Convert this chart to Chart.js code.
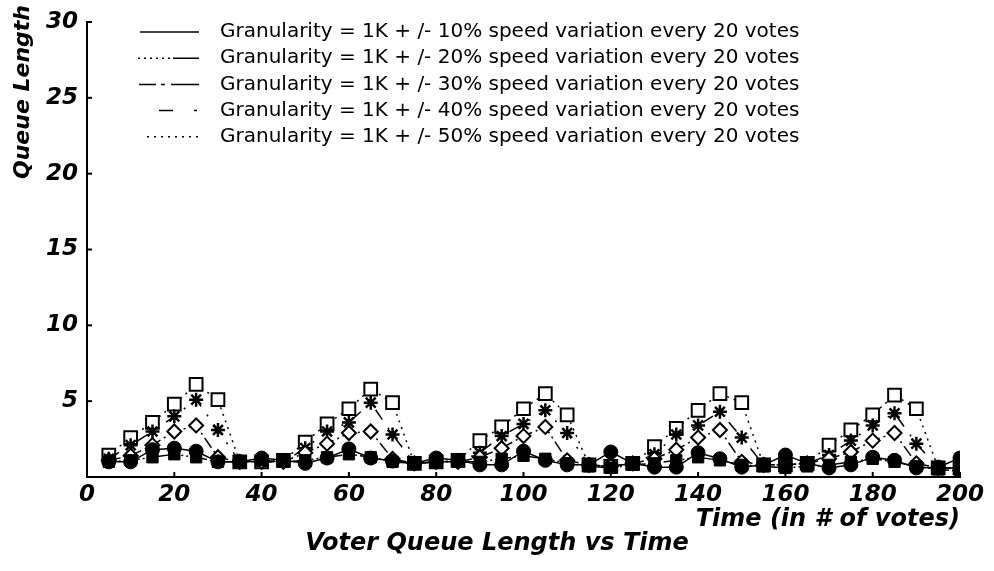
<!DOCTYPE html>
<html>
<head>
<meta charset="utf-8">
<script src="https://cdn.jsdelivr.net/npm/chart.js@4.4.0/dist/chart.umd.min.js"></script>
<style>
  html, body { margin: 0; padding: 0; background: #fff; }
  #wrap { width: 994px; height: 571px; }
</style>
</head>
<body>
<div id="wrap"><canvas id="chart_Queue"></canvas></div>
<script>
// time in # of votes (one sample every 5 votes)
var times = [5, 10, 15, 20, 25, 30, 35, 40, 45, 50, 55, 60, 65, 70, 75, 80, 85, 90, 95, 100,
             105, 110, 115, 120, 125, 130, 135, 140, 145, 150, 155, 160, 165, 170, 175, 180, 185, 190, 195, 200];

var seriesNames = [
  "Granularity = 1K + /- 10% speed variation every 20 votes",
  "Granularity = 1K + /- 20% speed variation every 20 votes",
  "Granularity = 1K + /- 30% speed variation every 20 votes",
  "Granularity = 1K + /- 40% speed variation every 20 votes",
  "Granularity = 1K + /- 50% speed variation every 20 votes"
];

var var10 = [1.0, 1.0, 1.8, 1.9, 1.7, 1.0, 1.0, 1.25, 1.1, 0.9, 1.25, 1.85, 1.25, 1.05, 0.9, 1.25, 1.1, 0.8, 0.8, 1.7,
             1.1, 0.8, 0.8, 1.65, 0.9, 0.65, 0.65, 1.6, 1.2, 0.65, 0.8, 1.45, 0.9, 0.6, 0.8, 1.3, 1.1, 0.6, 0.65, 1.25];
var var20 = [1.0, 1.1, 1.3, 1.5, 1.3, 1.0, 1.0, 1.1, 1.0, 1.1, 1.3, 1.5, 1.3, 1.0, 0.9, 1.0, 1.0, 1.0, 1.2, 1.4,
             1.2, 0.9, 0.7, 0.6, 0.8, 0.9, 1.1, 1.3, 1.1, 0.8, 0.7, 0.6, 0.7, 0.8, 1.0, 1.2, 1.0, 0.7, 0.5, 0.4];
var var30 = [1.1, 1.4, 2.1, 3.0, 3.4, 1.3, 1.0, 1.0, 1.0, 1.6, 2.2, 2.9, 3.0, 1.2, 0.9, 1.0, 1.0, 1.3, 1.9, 2.7,
             3.3, 1.1, 0.8, 0.7, 0.9, 1.2, 1.8, 2.6, 3.1, 1.0, 0.8, 0.8, 0.9, 1.2, 1.65, 2.4, 2.9, 0.9, 0.6, 0.6];
var var40 = [1.2, 2.1, 3.0, 4.0, 5.1, 3.1, 1.0, 1.0, 1.0, 1.9, 3.0, 3.6, 4.9, 2.8, 0.9, 1.0, 1.0, 1.6, 2.7, 3.5,
             4.4, 2.9, 0.8, 0.7, 0.9, 1.5, 2.8, 3.4, 4.3, 2.6, 0.8, 0.8, 0.9, 1.45, 2.4, 3.4, 4.2, 2.2, 0.6, 0.6];
var var50 = [1.45, 2.6, 3.6, 4.8, 6.1, 5.1, 1.0, 1.0, 1.1, 2.3, 3.5, 4.5, 5.8, 4.9, 0.9, 1.0, 1.1, 2.4, 3.3, 4.5,
             5.5, 4.1, 0.8, 0.7, 0.9, 2.0, 3.2, 4.4, 5.5, 4.9, 0.8, 0.8, 0.9, 2.1, 3.1, 4.1, 5.4, 4.5, 0.6, 0.6];

var xTickValues = [0, 20, 40, 60, 80, 100, 120, 140, 160, 180, 200];
var yTickValues = [5, 10, 15, 20, 25, 30];

var allSeries = [var10, var20, var30, var40, var50];
var dashes = [[], [2, 3, 2, 3, 2, 3, 16, 3], [12, 4, 2, 4], [12, 10, 2, 10], [2, 5]];
var markers = [
  { pointStyle: 'circle', pointRadius: 7, pointBackgroundColor: '#000', pointBorderWidth: 1 },
  { pointStyle: 'rect', pointRadius: 8, pointBackgroundColor: '#000', pointBorderWidth: 1 },
  { pointStyle: 'rectRot', pointRadius: 7, pointBackgroundColor: '#fff', pointBorderWidth: 2 },
  { pointStyle: 'star', pointRadius: 7, pointBackgroundColor: '#000', pointBorderWidth: 2.5 },
  { pointStyle: 'rect', pointRadius: 9, pointBackgroundColor: '#fff', pointBorderWidth: 2 }
];
// legend samples are drawn a bit differently from the plotted lines
var legendStart = [140, 138, 139, 159, 147];
var legendDash = [[], [2, 4, 2, 4, 2, 4, 2, 4, 2, 4, 2, 3, 40], [17, 5, 4, 6, 40], [14, 21, 3, 40], [2, 5]];

function makePoints(values) {
  var pts = [];
  for (var i = 0; i < times.length; i++) {
    pts.push({ x: times[i], y: values[i] });
  }
  return pts;
}

var datasets = [];
for (var i = 0; i < allSeries.length; i++) {
  datasets.push(Object.assign({
    label: seriesNames[i],
    data: makePoints(allSeries[i]),
    borderColor: '#000',
    borderWidth: 1.5,
    borderDash: dashes[i],
    pointBorderColor: '#000',
    tension: 0,
    fill: false,
    yAxisID: 'y'
  }, markers[i]));
}

var boldItalic = function (size) {
  return { family: 'DejaVu Sans', size: size, style: 'italic', weight: 'bold', lineHeight: 1 };
};

// legend inside the plot, y title and inward tick marks
var extrasPlugin = {
  id: 'extras',
  afterDraw: function (chart) {
    var ctx = chart.ctx;
    var area = chart.chartArea;
    ctx.save();

    // inward tick marks
    ctx.strokeStyle = '#000';
    ctx.lineWidth = 2;
    ctx.setLineDash([]);
    var xs = chart.scales.x, ys = chart.scales.y;
    xTickValues.forEach(function (v) {
      var px = xs.getPixelForValue(v);
      ctx.beginPath(); ctx.moveTo(px, area.bottom); ctx.lineTo(px, area.bottom - 5); ctx.stroke();
    });
    yTickValues.forEach(function (v) {
      var py = ys.getPixelForValue(v);
      ctx.beginPath(); ctx.moveTo(area.left, py); ctx.lineTo(area.left + 5, py); ctx.stroke();
    });

    // legend
    ctx.font = '20px "DejaVu Sans"';
    ctx.fillStyle = '#000';
    ctx.textBaseline = 'middle';
    ctx.textAlign = 'left';
    chart.data.datasets.forEach(function (ds, i) {
      var y = 32 + i * 26.2;
      ctx.lineWidth = 1.5;
      ctx.setLineDash(legendDash[i]);
      ctx.beginPath();
      ctx.moveTo(legendStart[i], y);
      ctx.lineTo(199, y);
      ctx.stroke();
      ctx.setLineDash([]);
      ctx.fillText(ds.label, 220, y);
    });

    // y axis title
    ctx.font = 'italic bold 22px "DejaVu Sans"';
    ctx.translate(23, 5);
    ctx.rotate(-Math.PI / 2);
    ctx.textAlign = 'right';
    ctx.fillText('Queue Length', 0, 0);
    ctx.restore();
  }
};

new Chart(document.getElementById('chart_Queue'), {
  type: 'line',
  data: { datasets: datasets },
  options: {
    animation: false,
    responsive: true,
    maintainAspectRatio: false,
    layout: { padding: { top: 22, right: 0, left: 0, bottom: 0 } },
    scales: {
      x: {
        type: 'linear',
        min: 0,
        max: 200,
        afterBuildTicks: function (scale) {
          scale.ticks = xTickValues.map(function (v) { return { value: v }; });
        },
        afterFit: function (scale) { scale.height = 55; },
        grid: { drawOnChartArea: false, drawTicks: false },
        border: { display: true, color: '#000', width: 2 },
        ticks: { color: '#000', padding: 7, font: boldItalic(23), maxRotation: 0 },
        title: {
          display: true,
          text: 'Time (in # of votes)',
          align: 'end',
          color: '#000',
          font: boldItalic(24),
          padding: { top: 0, bottom: 0 }
        }
      },
      y: {
        type: 'linear',
        position: 'left',
        min: 0,
        max: 30,
        afterBuildTicks: function (scale) {
          scale.ticks = yTickValues.map(function (v) { return { value: v }; });
        },
        afterFit: function (scale) { scale.width = 87; },
        grid: { drawOnChartArea: false, drawTicks: false },
        border: { display: true, color: '#000', width: 2 },
        ticks: { color: '#000', padding: 9, font: boldItalic(23) }
      },
      // empty right margin so the bottom title stays centred on the page
      yRight: {
        type: 'linear',
        position: 'right',
        min: 0,
        max: 30,
        afterFit: function (scale) { scale.width = 34; },
        grid: { display: false, drawTicks: false },
        border: { display: false },
        ticks: { display: false }
      }
    },
    plugins: {
      legend: { display: false },
      tooltip: { enabled: false },
      title: {
        display: true,
        text: 'Voter Queue Length vs Time',
        position: 'bottom',
        color: '#000',
        font: boldItalic(24),
        padding: { top: 0, bottom: 15 }
      }
    }
  },
  plugins: [extrasPlugin]
});
</script>
</body>
</html>
